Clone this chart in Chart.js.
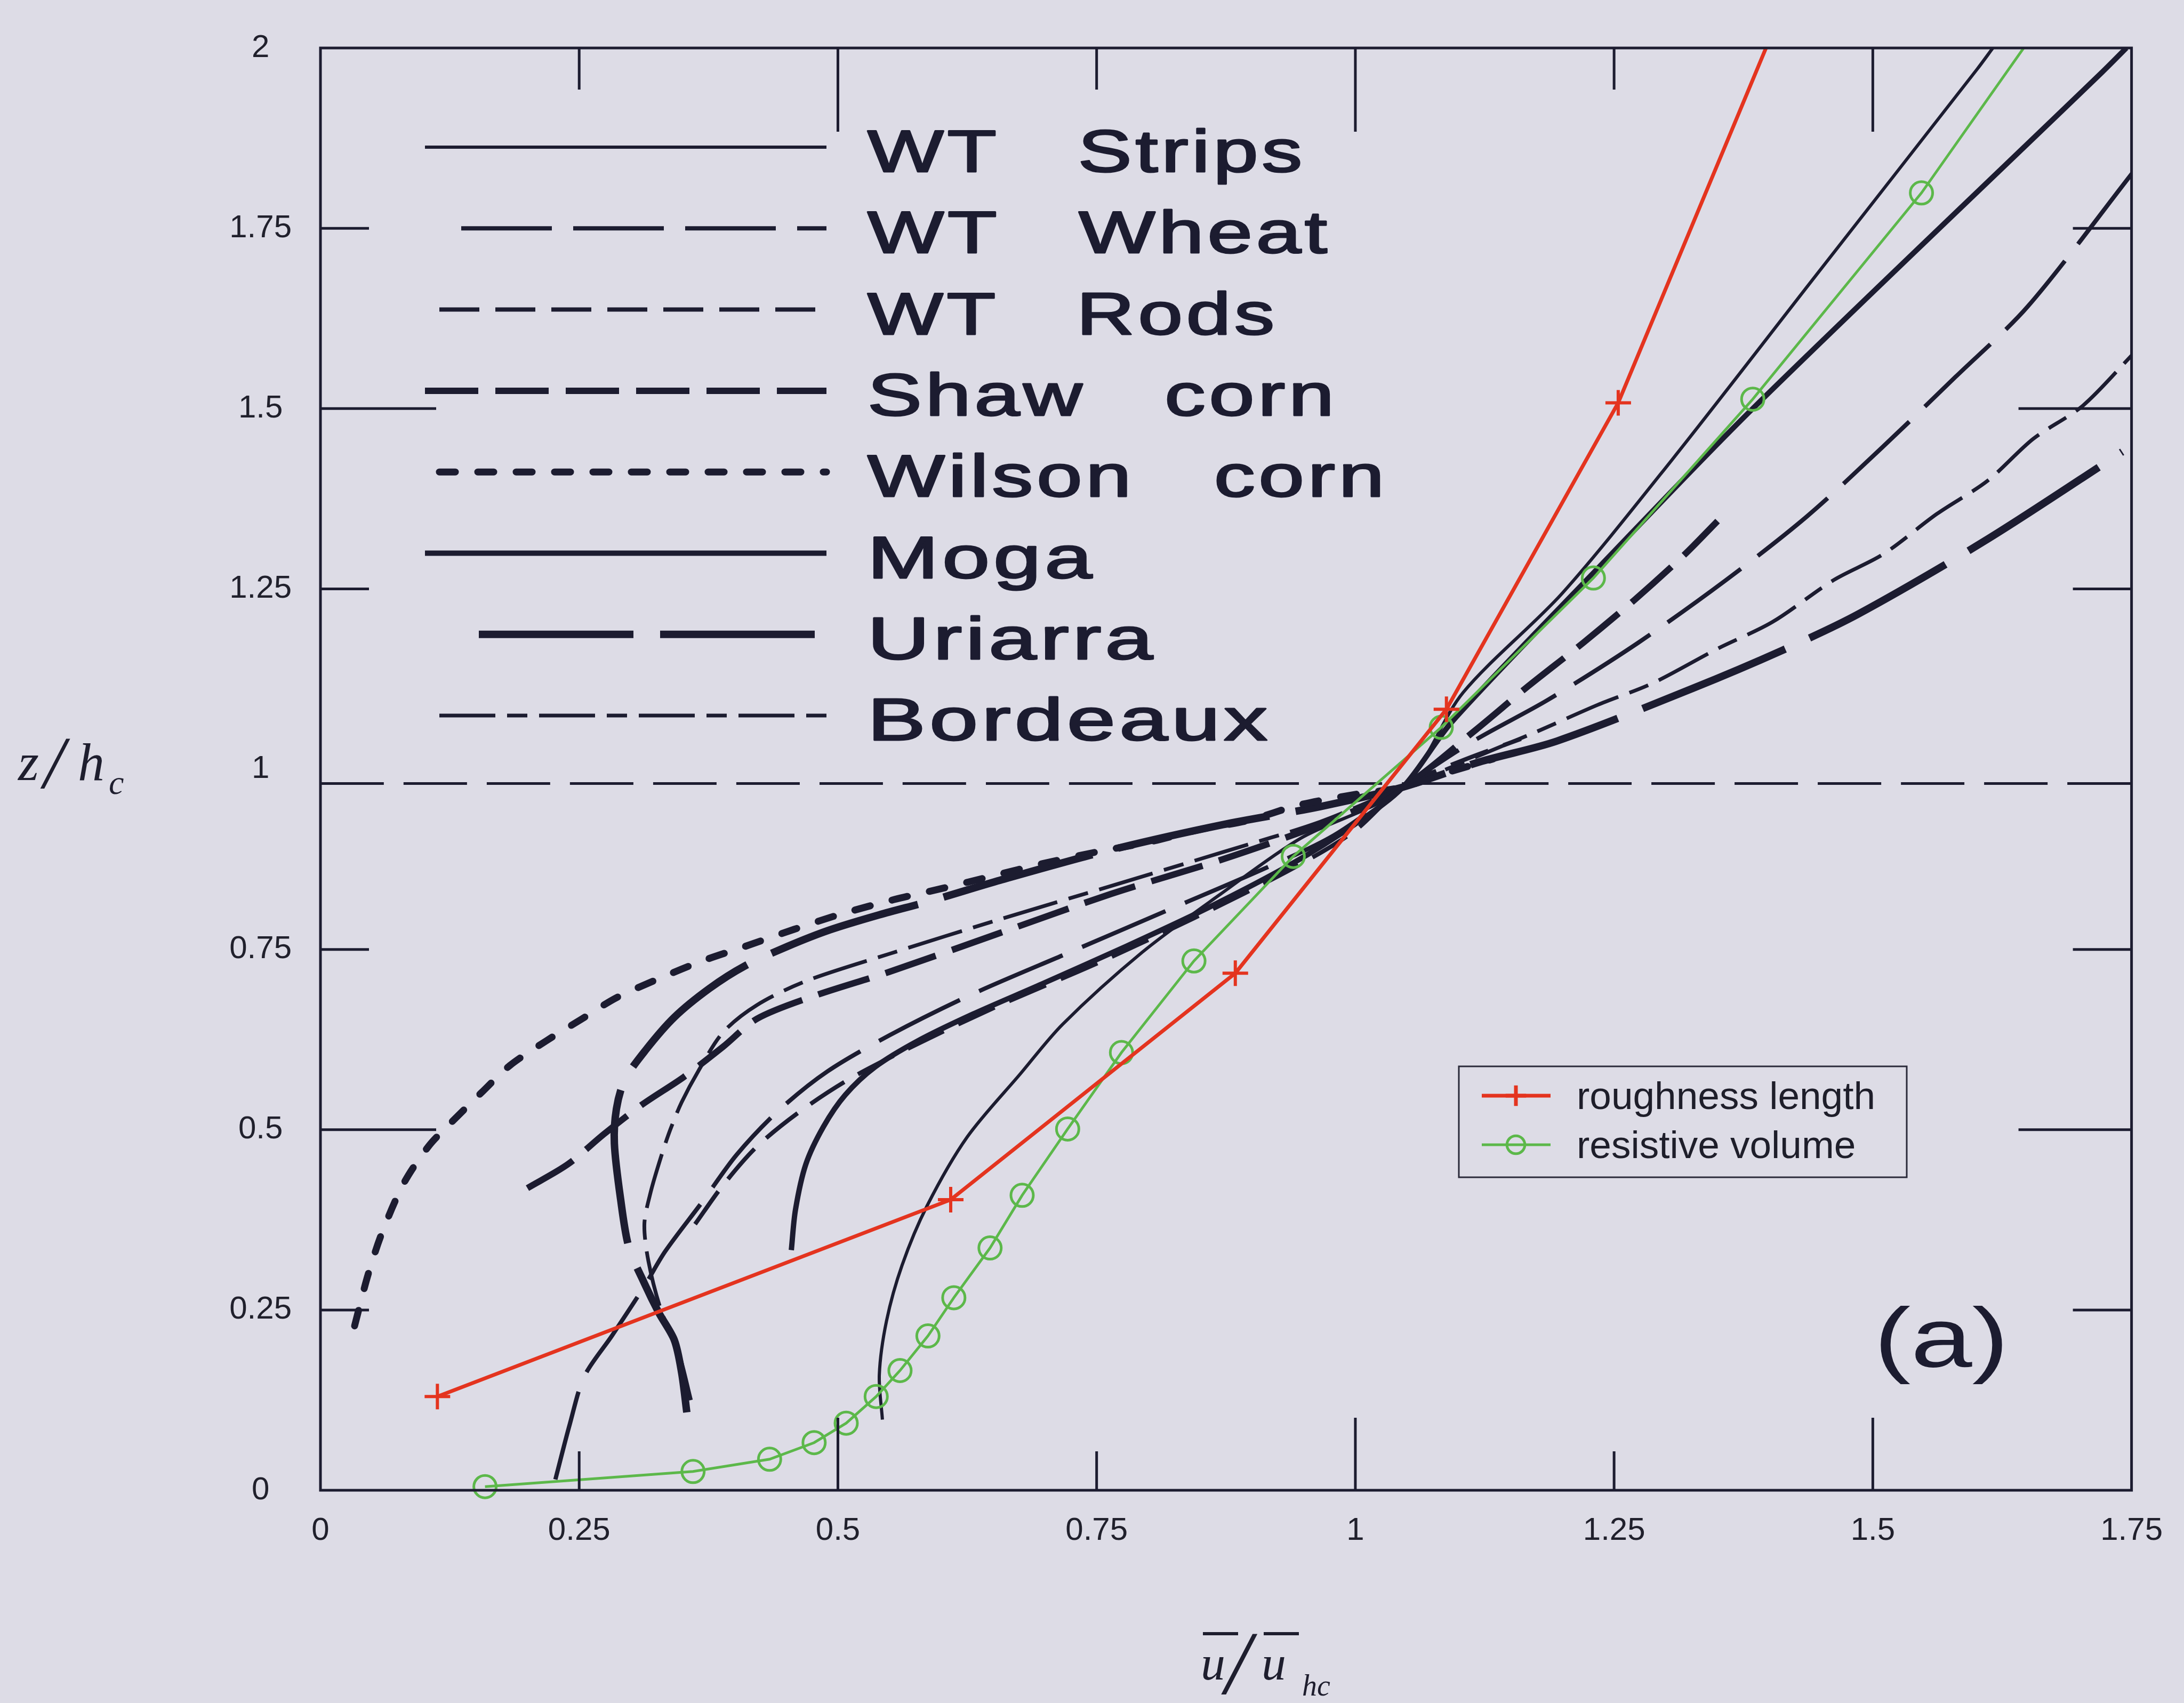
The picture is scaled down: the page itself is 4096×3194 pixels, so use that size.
<!DOCTYPE html>
<html>
<head>
<meta charset="utf-8">
<title>Velocity profiles</title>
<script src="https://cdn.jsdelivr.net/npm/chart.js"></script>
<style>
  html, body { margin: 0; padding: 0; background: #dddce6; }
  #wrap { width: 4096px; height: 3194px; }
</style>
</head>
<body>
<div id="wrap"><canvas id="profileChart" width="4096" height="3194"></canvas></div>
<script>
// axis ticks
const uTicks = [0, 0.25, 0.5, 0.75, 1, 1.25, 1.5, 1.75];
const zTicks = [0, 0.25, 0.5, 0.75, 1, 1.25, 1.5, 1.75, 2];

// model results
const roughU = [0.113, 0.609, 0.884, 1.088, 1.254, 1.42];
const roughZ = [0.130, 0.403, 0.717, 1.083, 1.508, 2.08];
const resistU = [0.159, 0.360, 0.434, 0.477, 0.508, 0.537, 0.560, 0.587, 0.612, 0.647, 0.678, 0.722, 0.774, 0.844, 0.940, 1.083, 1.230, 1.384, 1.547, 1.69];
const resistZ = [0.005, 0.026, 0.043, 0.066, 0.093, 0.130, 0.166, 0.214, 0.267, 0.336, 0.409, 0.501, 0.607, 0.734, 0.879, 1.058, 1.265, 1.513, 1.799, 2.09];

// measured canopy profiles
const stripsU = [0.543, 0.540, 0.547, 0.562, 0.586, 0.625, 0.676, 0.717, 0.794, 0.870, 0.947, 1.046, 1.104, 1.200, 1.306, 1.442, 1.601, 1.616];
const stripsZ = [0.098, 0.160, 0.235, 0.312, 0.394, 0.490, 0.577, 0.646, 0.746, 0.827, 0.904, 0.975, 1.106, 1.244, 1.429, 1.679, 1.971, 2.0];

const wheatU = [0.227, 0.241, 0.255, 0.282, 0.313, 0.333, 0.369, 0.402, 0.443, 0.490, 0.550, 0.630, 0.724, 0.818, 0.912, 0.979, 1.046, 1.113, 1.186, 1.273, 1.358, 1.436, 1.509, 1.580, 1.650, 1.751];
const wheatZ = [0.015, 0.092, 0.158, 0.215, 0.283, 0.331, 0.400, 0.465, 0.527, 0.581, 0.631, 0.688, 0.746, 0.804, 0.862, 0.908, 0.975, 1.038, 1.096, 1.175, 1.262, 1.350, 1.446, 1.544, 1.642, 1.827];

const rodsU = [0.362, 0.389, 0.422, 0.463, 0.512, 0.577, 0.657, 0.751, 0.845, 0.939, 0.999, 1.046, 1.100, 1.160];
const rodsZ = [0.369, 0.423, 0.477, 0.525, 0.571, 0.619, 0.673, 0.731, 0.794, 0.862, 0.914, 0.975, 1.010, 1.042];

const shawU = [0.200, 0.239, 0.274, 0.311, 0.351, 0.389, 0.422, 0.476, 0.550, 0.657, 0.764, 0.872, 0.966, 1.046, 1.116, 1.167, 1.220, 1.270, 1.317, 1.350];
const shawZ = [0.419, 0.452, 0.494, 0.535, 0.573, 0.615, 0.654, 0.685, 0.719, 0.773, 0.827, 0.875, 0.923, 0.975, 1.054, 1.115, 1.175, 1.235, 1.296, 1.344];

const wilsonU = [0.033, 0.046, 0.060, 0.081, 0.105, 0.125, 0.156, 0.183, 0.218, 0.252, 0.286, 0.328, 0.369, 0.410, 0.458, 0.503, 0.554, 0.602, 0.650, 0.698, 0.753, 0.801, 0.849, 0.897, 0.945, 1.000, 1.046, 1.086, 1.133];
const wilsonZ = [0.228, 0.299, 0.359, 0.427, 0.478, 0.508, 0.552, 0.589, 0.623, 0.653, 0.683, 0.710, 0.734, 0.754, 0.778, 0.799, 0.819, 0.835, 0.852, 0.869, 0.886, 0.899, 0.916, 0.929, 0.950, 0.965, 0.975, 0.994, 1.014];

const mogaU = [0.455, 0.459, 0.469, 0.486, 0.507, 0.536, 0.577, 0.630, 0.697, 0.778, 0.858, 0.939, 0.999, 1.046, 1.093, 1.236, 1.384, 1.722, 1.745];
const mogaZ = [0.333, 0.389, 0.452, 0.504, 0.548, 0.587, 0.623, 0.660, 0.702, 0.754, 0.808, 0.869, 0.923, 0.975, 1.065, 1.281, 1.500, 1.967, 2.0];

const uriarraU = [0.354, 0.349, 0.342, 0.327, 0.313, 0.298, 0.290, 0.284, 0.286, 0.294, 0.314, 0.342, 0.376, 0.410, 0.451, 0.492, 0.540, 0.589, 0.657, 0.764, 0.872, 0.966, 1.046, 1.120, 1.195, 1.326, 1.413, 1.486, 1.611, 1.741];
const uriarraZ = [0.108, 0.163, 0.208, 0.246, 0.287, 0.337, 0.404, 0.481, 0.529, 0.569, 0.610, 0.656, 0.696, 0.727, 0.754, 0.777, 0.798, 0.817, 0.846, 0.888, 0.923, 0.948, 0.975, 1.010, 1.039, 1.112, 1.165, 1.215, 1.319, 1.440];

const bordeauxU = [0.358, 0.346, 0.329, 0.317, 0.313, 0.319, 0.329, 0.338, 0.349, 0.365, 0.389, 0.422, 0.469, 0.550, 0.657, 0.764, 0.872, 0.966, 1.046, 1.172, 1.234, 1.287, 1.350, 1.403, 1.462, 1.510, 1.562, 1.611, 1.655, 1.703, 1.751];
const bordeauxZ = [0.125, 0.192, 0.250, 0.317, 0.369, 0.413, 0.462, 0.500, 0.538, 0.581, 0.635, 0.673, 0.706, 0.744, 0.792, 0.838, 0.885, 0.927, 0.975, 1.050, 1.089, 1.119, 1.167, 1.204, 1.262, 1.298, 1.354, 1.400, 1.458, 1.504, 1.575];

// canopy top reference line
const topLineU = [0, 1.75];
const topLineZ = [0.98, 0.98];

const ink = '#1c1c30';
const red = '#e4341f';
const green = '#5cb84a';

function pts(us, zs) {
  return us.map((u, i) => ({ x: u, y: zs[i] }));
}

function profile(label, us, zs, width, dash, cap) {
  return {
    label: label,
    data: pts(us, zs),
    showLine: true,
    borderColor: ink,
    borderWidth: width,
    borderDash: dash,
    borderCapStyle: cap || 'butt',
    pointRadius: 0,
    tension: 0.3,
    clip: 0
  };
}

const datasets = [
  {
    label: 'roughness length',
    data: pts(roughU, roughZ),
    showLine: true,
    borderColor: red,
    borderWidth: 7,
    pointStyle: 'cross',
    pointRadius: 24,
    pointBorderWidth: 6,
    pointBorderColor: red,
    tension: 0,
    clip: { left: 40, right: 0, top: 0, bottom: 40 }
  },
  {
    label: 'resistive volume',
    data: pts(resistU, resistZ),
    showLine: true,
    borderColor: green,
    borderWidth: 5,
    pointStyle: 'circle',
    pointRadius: 21,
    pointBorderWidth: 5,
    pointBorderColor: green,
    pointBackgroundColor: 'rgba(0,0,0,0)',
    tension: 0,
    clip: { left: 40, right: 0, top: 0, bottom: 40 }
  },
  profile('WT   Strips', stripsU, stripsZ, 6, []),
  profile('WT   Wheat', wheatU, wheatZ, 8, [170, 40]),
  profile('WT   Rods', rodsU, rodsZ, 8, [75, 30]),
  profile('Shaw   corn', shawU, shawZ, 12, [100, 32]),
  profile('Wilson   corn', wilsonU, wilsonZ, 13, [30, 42], 'round'),
  profile('Moga', mogaU, mogaZ, 10, []),
  profile('Uriarra', uriarraU, uriarraZ, 14, [290, 50]),
  profile('Bordeaux', bordeauxU, bordeauxZ, 7, [105, 22, 38, 22]),
  profile('z/hc = 1', topLineU, topLineZ, 5, [119, 37])
];

// scanned legend rows: dataset index, sample start, text width
const canopyLegend = [
  { ds: 2, x0: 797, w: 815 },
  { ds: 3, x0: 865, w: 862 },
  { ds: 4, x0: 824, w: 763 },
  { ds: 5, x0: 797, w: 875 },
  { ds: 6, x0: 824, w: 969 },
  { ds: 7, x0: 797, w: 421 },
  { ds: 8, x0: 898, w: 535 },
  { ds: 9, x0: 824, w: 750 }
];

const bgFill = {
  id: 'bgFill',
  beforeDraw(chart) {
    const ctx = chart.ctx;
    ctx.save();
    ctx.fillStyle = '#dddce6';
    ctx.fillRect(0, 0, chart.width, chart.height);
    ctx.restore();
  }
};

// box with inward ticks, long ticks every 0.5
const frameTicks = {
  id: 'frameTicks',
  afterDatasetsDraw(chart) {
    const { ctx, chartArea: a, scales: { x, y } } = chart;
    ctx.save();
    ctx.strokeStyle = ink;
    ctx.lineWidth = 5;
    ctx.strokeRect(a.left, a.top, a.right - a.left, a.bottom - a.top);
    ctx.beginPath();
    uTicks.forEach(v => {
      if (v <= 0 || v >= 1.75) return;
      const px = x.getPixelForValue(v);
      const major = v % 0.5 === 0;
      ctx.moveTo(px, a.bottom);
      ctx.lineTo(px, a.bottom - (major ? 136 : 73));
      ctx.moveTo(px, a.top);
      ctx.lineTo(px, a.top + (major ? 157 : 78));
    });
    zTicks.forEach(v => {
      if (v <= 0 || v >= 2 || v === 1) return;
      const py = y.getPixelForValue(v);
      const major = v % 0.5 === 0;
      ctx.moveTo(a.left, py);
      ctx.lineTo(a.left + (major ? 217 : 91), py);
      ctx.moveTo(a.right, py);
      ctx.lineTo(a.right - (major ? 212 : 110), py);
    });
    ctx.stroke();
    ctx.restore();
  }
};

const legends = {
  id: 'legends',
  afterDraw(chart) {
    const ctx = chart.ctx;
    ctx.save();

    // canopy data legend, upper left
    const rowTop = 276, rowGap = 152.3, sampleEnd = 1550, textX = 1627;
    ctx.font = '112px "Liberation Sans", Arial, sans-serif';
    ctx.fillStyle = ink;
    ctx.textBaseline = 'alphabetic';
    canopyLegend.forEach((item, i) => {
      const ds = datasets[item.ds];
      const ly = rowTop + i * rowGap;
      ctx.strokeStyle = ink;
      ctx.lineWidth = ds.borderWidth;
      ctx.lineCap = ds.borderCapStyle;
      ctx.setLineDash(ds.borderDash);
      ctx.beginPath();
      ctx.moveTo(item.x0, ly);
      ctx.lineTo(sampleEnd, ly);
      ctx.stroke();
      ctx.setLineDash([]);
      const t = ds.label;
      ctx.letterSpacing = '5px';
      const w1 = ctx.measureText(t).width - 5;
      ctx.save();
      ctx.translate(textX, ly + 46);
      ctx.scale(item.w / w1, 1);
      ctx.lineWidth = 3;
      ctx.lineCap = 'butt';
      ctx.lineJoin = 'round';
      ctx.fillText(t, 0, 0);
      ctx.strokeText(t, 0, 0);
      ctx.restore();
    });
    ctx.letterSpacing = '0px';

    // model legend box
    const bx = 2736, by = 2000, bw = 840, bh = 208;
    ctx.lineWidth = 3;
    ctx.strokeStyle = '#2a2a3a';
    ctx.strokeRect(bx, by, bw, bh);
    ctx.font = '73px "Liberation Sans", Arial, sans-serif';
    ctx.textBaseline = 'middle';
    [0, 1].forEach(k => {
      const ds = datasets[k];
      const ly = by + 55 + k * 92;
      ctx.strokeStyle = ds.borderColor;
      ctx.lineWidth = ds.borderWidth;
      ctx.beginPath();
      ctx.moveTo(2779, ly);
      ctx.lineTo(2908, ly);
      ctx.stroke();
      ctx.fillStyle = 'rgba(0,0,0,0)';
      Chart.helpers.drawPoint(ctx, {
        pointStyle: ds.pointStyle,
        radius: ds.pointRadius * 0.8,
        rotation: 0,
        borderWidth: ds.pointBorderWidth
      }, 2843, ly);
      ctx.fillStyle = '#1e1e2a';
      ctx.fillText(ds.label, 2957, ly + 5);
    });

    // panel tag
    ctx.font = '157px "Liberation Sans", Arial, sans-serif';
    ctx.textBaseline = 'middle';
    ctx.textAlign = 'center';
    ctx.fillStyle = ink;
    const tag = '(a)';
    const tw = ctx.measureText(tag).width;
    ctx.save();
    ctx.translate(3641, 2520);
    ctx.scale(253 / tw, 1);
    ctx.fillText(tag, 0, 0);
    ctx.restore();
    ctx.textAlign = 'left';

    // axis titles
    ctx.fillStyle = '#1e1e2e';
    ctx.textBaseline = 'alphabetic';
    ctx.font = 'italic 100px "Liberation Serif", "DejaVu Serif", serif';
    ctx.fillText('z', 34, 1463);
    ctx.font = 'italic 140px "Liberation Serif", "DejaVu Serif", serif';
    ctx.fillText('/', 82, 1478);
    ctx.font = 'italic 100px "Liberation Serif", "DejaVu Serif", serif';
    ctx.fillText('h', 146, 1463);
    ctx.font = 'italic 64px "Liberation Serif", "DejaVu Serif", serif';
    ctx.fillText('c', 204, 1489);

    const xb = 3150;
    ctx.font = 'italic 92px "Liberation Serif", "DejaVu Serif", serif';
    ctx.fillText('u', 2252, xb);
    ctx.fillText('u', 2366, xb);
    ctx.font = 'italic 170px "Liberation Serif", "DejaVu Serif", serif';
    ctx.fillText('/', 2298, xb + 26);
    ctx.font = 'italic 56px "Liberation Serif", "DejaVu Serif", serif';
    ctx.fillText('hc', 2442, xb + 30);
    ctx.strokeStyle = '#1e1e2e';
    ctx.lineWidth = 6;
    ctx.beginPath();
    ctx.moveTo(2256, 3064); ctx.lineTo(2322, 3064);
    ctx.moveTo(2370, 3064); ctx.lineTo(2436, 3064);
    ctx.stroke();

    ctx.restore();
  }
};

const tickFont = { family: '"Liberation Sans", Arial, sans-serif', size: 60 };

new Chart(document.getElementById('profileChart'), {
  type: 'scatter',
  data: { datasets: datasets },
  options: {
    responsive: false,
    animation: false,
    devicePixelRatio: 1,
    events: [],
    layout: { padding: { left: 0, right: 86, top: 78, bottom: 229 } },
    plugins: {
      legend: { display: false },
      tooltip: { enabled: false }
    },
    scales: {
      x: {
        type: 'linear',
        min: 0,
        max: 1.75,
        afterBuildTicks: s => { s.ticks = uTicks.map(v => ({ value: v })); },
        afterFit: s => { s.height = 170; },
        grid: { display: false, drawTicks: false },
        border: { display: false },
        ticks: {
          color: '#20202c',
          font: tickFont,
          padding: 40,
          maxRotation: 0,
          autoSkip: false,
          callback: v => String(v)
        }
      },
      y: {
        type: 'linear',
        min: 0,
        max: 2,
        afterBuildTicks: s => { s.ticks = zTicks.map(v => ({ value: v })); },
        afterFit: s => { s.width = 601; },
        grid: { display: false, drawTicks: false },
        border: { display: false },
        ticks: {
          color: '#20202c',
          font: tickFont,
          padding: 54,
          crossAlign: 'center',
          autoSkip: false,
          callback: v => String(v)
        }
      }
    }
  },
  plugins: [bgFill, frameTicks, legends]
});
</script>
</body>
</html>
